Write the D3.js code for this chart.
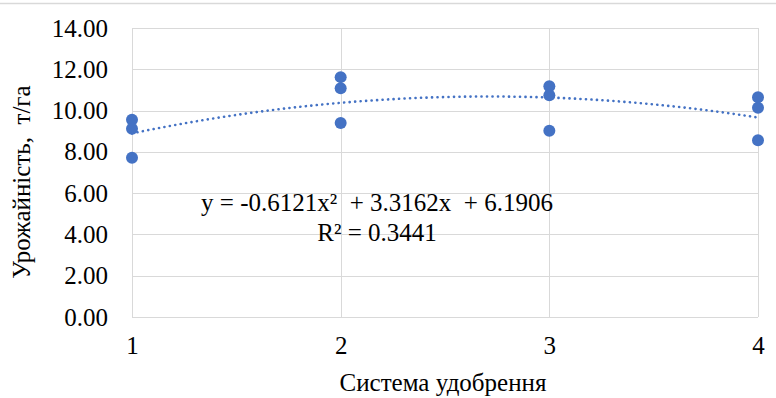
<!DOCTYPE html>
<html>
<head>
<meta charset="utf-8">
<script src="https://cdn.jsdelivr.net/npm/d3@7"></script>
<style>
  html, body { margin: 0; padding: 0; background: #fff; }
  svg text { font-family: "Liberation Serif", "Times New Roman", "DejaVu Serif", serif !important; fill: #000; white-space: pre; }
</style>
</head>
<body>
<svg id="chart" width="776" height="398"></svg>
<script>
// дані з графіка
const systems = [1, 1, 1, 2, 2, 2, 3, 3, 3, 4, 4, 4];
const yields = [9.55, 9.12, 7.72, 11.62, 11.08, 9.40, 11.18, 10.74, 9.02, 10.64, 10.14, 8.56];
const xTicks = [1, 2, 3, 4];
const yTicks = [0, 2, 4, 6, 8, 10, 12, 14];
const trendCoef = [-0.6121, 3.3162, 6.1906]; // a, b, c
const equationText = ['y = -0.6121x²  + 3.3162x  + 6.1906', 'R² = 0.3441'];
const xTitle = 'Система удобрення';
const yTitle = 'Урожайність,  т/га';

const svg = d3.select('#chart');
const [plotLeft, plotRight, plotTop, plotBottom] = [132, 758, 28, 317];
const fontSize = 25;

const x = d3.scaleLinear([1, 4], [plotLeft, plotRight]);
const y = d3.scaleLinear([0, 14], [plotBottom, plotTop]);

// рамка зверху
svg.append('line')
	.attr('x1', 0).attr('x2', 776).attr('y1', 3.5).attr('y2', 3.5)
	.attr('stroke', '#d9d9d9').attr('stroke-width', 1.5);

// сітка
svg.append('g')
	.selectAll('line')
	.data(yTicks)
	.join('line')
	.attr('x1', plotLeft).attr('x2', plotRight)
	.attr('y1', d => Math.round(y(d)) + 0.5).attr('y2', d => Math.round(y(d)) + 0.5)
	.attr('stroke', '#d9d9d9');

svg.append('g')
	.selectAll('line')
	.data(xTicks)
	.join('line')
	.attr('x1', d => Math.round(x(d)) + 0.5).attr('x2', d => Math.round(x(d)) + 0.5)
	.attr('y1', plotTop).attr('y2', plotBottom)
	.attr('stroke', '#d9d9d9');

// осі (тільки підписи)
svg.append('g')
	.attr('transform', `translate(0, ${plotBottom})`)
	.call(d3.axisBottom(x).tickValues(xTicks).tickFormat(d3.format('d')).tickSize(0).tickPadding(19))
	.call(g => g.select('.domain').remove())
	.selectAll('text')
	.attr('font-size', fontSize);

svg.append('g')
	.attr('transform', `translate(${plotLeft}, 0)`)
	.call(d3.axisLeft(y).tickValues(yTicks).tickFormat(d3.format('.2f')).tickSize(0).tickPadding(24))
	.call(g => g.select('.domain').remove())
	.selectAll('text')
	.attr('font-size', fontSize);

// лінія тренду (поліном 2-го ступеня)
const trend = v => trendCoef[0] * v * v + trendCoef[1] * v + trendCoef[2];
const trendPts = d3.range(1, 4.0001, 0.02);
svg.append('path')
	.attr('fill', 'none')
	.attr('stroke', '#4472c4')
	.attr('stroke-width', 2.6)
	.attr('stroke-linecap', 'round')
	.attr('stroke-dasharray', '0.1 5.4')
	.attr('d', d3.line().x(v => x(v)).y(v => y(trend(v)))(trendPts));

// точки
svg.append('g')
	.selectAll('circle')
	.data(systems)
	.join('circle')
	.attr('cx', d => x(d))
	.attr('cy', (d, i) => y(yields[i]))
	.attr('r', 6)
	.attr('fill', '#4472c4');

// рівняння
svg.append('g')
	.selectAll('text')
	.data(equationText)
	.join('text')
	.attr('x', 377)
	.attr('y', (d, i) => 211 + i * 30)
	.attr('text-anchor', 'middle')
	.attr('font-size', fontSize)
	.text(d => d);

// назви осей
svg.append('text')
	.attr('x', (plotLeft + plotRight) / 2 - 2)
	.attr('y', 391)
	.attr('text-anchor', 'middle')
	.attr('font-size', fontSize)
	.text(xTitle);

svg.append('text')
	.attr('transform', 'translate(30, 182) rotate(-90)')
	.attr('text-anchor', 'middle')
	.attr('font-size', fontSize)
	.text(yTitle);
</script>
</body>
</html>
